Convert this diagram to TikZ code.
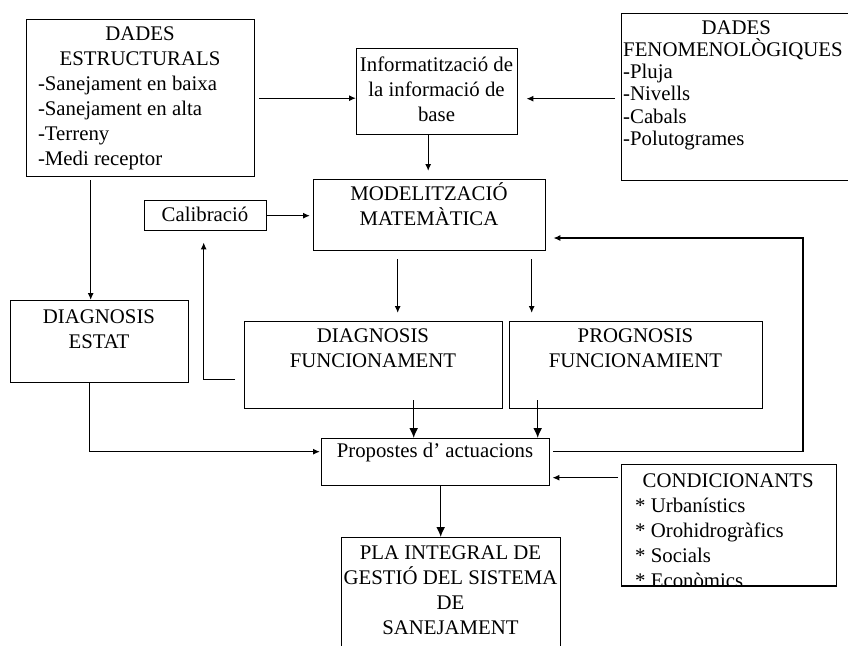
\documentclass[tikz,border=0pt]{standalone}
\usepackage{fontspec}
\setmainfont{Liberation Serif}
\usetikzlibrary{arrows.meta,calc}
\newcommand\tstr{\rule{0pt}{20pt}}
\begin{document}
\begin{tikzpicture}[x=1pt,y=-1pt,
  box/.style={draw, line width=1.4pt, inner sep=0pt, anchor=north west},
  txt/.style={inner sep=0pt, font={\fontsize{20.8}{25}\selectfont}, anchor=north, align=center},
  ltxt/.style={inner sep=0pt, font={\fontsize{20.8}{25}\selectfont}, align=left},
  arr/.style={line width=1.3pt, -{Latex[length=7pt,width=6pt]}},
  barr/.style={line width=1.5pt, -{Latex[length=10pt,width=9pt]}}]
\clip (0,0) rectangle (848,645);
\fill[white] (0,0) rectangle (848,645);

% boxes
\node[box, minimum width=228, minimum height=157] (dE) at (26,19) {};
\node[box, minimum width=161, minimum height=86] (info) at (356,48) {};
\node[box, minimum width=240, minimum height=167] (dF) at (621,13) {};
\node[box, minimum width=232, minimum height=71] (mod) at (313,179) {};
\node[box, minimum width=122, minimum height=30] (cal) at (144,200) {};
\node[box, minimum width=178, minimum height=82] (dEst) at (10,300) {};
\node[box, minimum width=258, minimum height=87] (dFun) at (244,321) {};
\node[box, minimum width=253, minimum height=87] (prog) at (509,321) {};
\node[box, minimum width=228, minimum height=47] (prop) at (321,438) {};
\node[box, minimum width=215, minimum height=121] (cond) at (621,464) {};
\node[box, minimum width=219, minimum height=130] (pla) at (341,537) {};

% texts
\node[ltxt, anchor=north] (dEt) at (140,20) {\makebox[204pt]{\tstr DADES}\\\makebox[204pt]{ESTRUCTURALS}\\-Sanejament en baixa\\-Sanejament en alta\\-Terreny\\-Medi receptor};
\node[txt] (infot) at (436.5,51) {\tstr Informatització de\\la informació de\\base};
\node[ltxt, anchor=north west, font={\fontsize{20.8}{22.2}\selectfont}] (dFt) at (623,14) {\makebox[226pt]{\tstr DADES}\\FENOMENOLÒGIQUES\\-Pluja\\-Nivells\\-Cabals\\-Polutogrames};
\node[txt] (modt) at (429,180) {\tstr MODELITZACIÓ\\MATEMÀTICA};
\node[txt] (calt) at (205,201) {\tstr Calibració};
\node[txt] (dEstt) at (99,303) {\tstr DIAGNOSIS\\ESTAT};
\node[txt] (dFunt) at (373,322) {\tstr DIAGNOSIS\\FUNCIONAMENT};
\node[txt] (progt) at (635.5,322) {\tstr PROGNOSIS\\FUNCIONAMIENT};
\node[txt] (propt) at (435,437) {\tstr Propostes d’ actuacions};
\begin{scope}
\clip (cond.north west) rectangle (cond.south east);
\node[ltxt, anchor=north west] (condt) at (635,467) {\makebox[186pt]{\tstr CONDICIONANTS}\\* Urbanístics\\* Orohidrogràfics\\* Socials\\* Econòmics};
\end{scope}
\draw[line width=1.4pt] (cond.south west) -- (cond.south east);
\node[txt] (plat) at (450.5,539) {\tstr PLA INTEGRAL DE\\GESTIÓ DEL SISTEMA\\DE\\SANEJAMENT};

% connectors
\draw[arr] ([xshift=4pt]dE.east) -- (info.west |- dE.east);
\draw[arr] ($(dF.west)+(-6,1.5)$) -- ($(info.east |- dF.west)+(8,1.5)$);
\draw[arr] ($(info.south)+(-9,0)$) -- ($(info.south |- mod.north)+(-9,-8)$);
\draw[arr] (cal.east) -- ($(mod.west |- cal.east)+(-3,0)$);
\draw[arr] ($(dE.south)+(-50,3)$) -- ($(dE.south |- dEst.north)+(-50,0)$);
\draw[arr] ($(mod.south)+(-32,8)$) -- ($(mod.south |- dFun.north)+(-32,-8)$);
\draw[arr] ($(mod.south)+(102,8)$) -- ($(mod.south |- prog.north)+(102,-8)$);
\draw[arr] ($(dFun.west)+(-9,14.5)$) -| ($(cal.south)+(-2,11)$);
\draw[arr] ($(dEst.south)+(-10,0)$) |- ($(prop.west)+(-1,-10.5)$);
\draw[barr] ($(dFun.south -| prop.north)+(-22,-9)$) -- ($(prop.north)+(-22,0)$);
\draw[barr] ($(prog.south -| prop.north)+(102,-9)$) -- ($(prop.north)+(102,0)$);
\draw[barr] ($(prop.south)+(5,0)$) -- ($(prop.south |- pla.north)+(5,0)$);
\coordinate (fb) at (803,238);
\draw[arr] ($(prop.east)+(3,-10.5)$) -| (fb) -- ($(mod.east |- fb)+(7,0)$);
\draw[arr] ($(cond.west |- prop.east)+(-3,15.5)$) -- ($(prop.east)+(2,15.5)$);
\end{tikzpicture}
\end{document}
